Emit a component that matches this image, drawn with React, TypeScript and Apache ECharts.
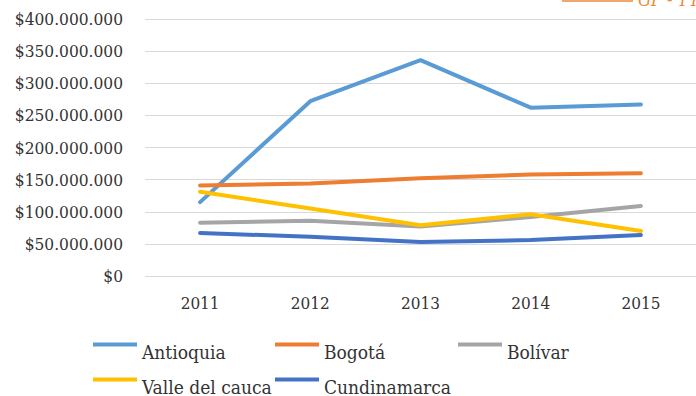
import { useEffect, useRef } from "react";
import * as echarts from "echarts";

// Years shown on the horizontal axis
const years = ["2011", "2012", "2013", "2014", "2015"];

// Yearly amounts per department (COP)
const antioquia = [115e6, 272e6, 336e6, 262e6, 267e6];
const bogota = [141e6, 144e6, 152e6, 158e6, 160e6];
const bolivar = [83e6, 86e6, 77e6, 92e6, 109e6];
const valle = [131e6, 105e6, 79e6, 96e6, 70e6];
const cundinamarca = [67e6, 61e6, 53e6, 56e6, 64e6];

const seriesNames = ["Antioquia", "Bogotá", "Bolívar", "Valle del cauca", "Cundinamarca"];
const seriesValues = [antioquia, bogota, bolivar, valle, cundinamarca];
const seriesColors = ["#5b9bd5", "#ed7d31", "#a5a5a5", "#ffc000", "#4472c4"];

const yMin = 0;
const yMax = 400e6;
const yStep = 50e6;

const FONT = "DejaVu Serif Condensed";
const TEXT = "#333333";

// Legend key: a thick stroke sitting at the top of a taller icon box
const LEGEND_ICON = "path://M0,0H44V4H0Z M0,17.9H0.1V18H0Z";

const money = (v: number) => "$" + String(Math.round(v)).replace(/\B(?=(\d{3})+(?!\d))/g, ".");

export default function App() {
  const ref = useRef<HTMLDivElement>(null);

  useEffect(() => {
    document.body.style.margin = "0";
    if (!ref.current) return;
    const chart = echarts.init(ref.current, null, { renderer: "svg" });

    // Legend placement: three items on the first row, two on the second
    const legendSlots = [
      { left: 93, top: 342 },
      { left: 275, top: 342 },
      { left: 458, top: 342 },
      { left: 93, top: 377 },
      { left: 275, top: 377 },
    ];

    chart.setOption({
      animation: false,
      backgroundColor: "#ffffff",
      grid: { left: 145, right: 0, top: 19, bottom: 120 },
      xAxis: {
        type: "category",
        data: years,
        boundaryGap: true,
        axisLine: { show: false },
        axisTick: { show: false },
        splitLine: { show: false },
        axisLabel: { color: TEXT, fontSize: 17, fontFamily: FONT, margin: 18 },
      },
      yAxis: {
        type: "value",
        min: yMin,
        max: yMax,
        interval: yStep,
        axisLine: { show: false },
        axisTick: { show: false },
        axisLabel: {
          color: TEXT,
          fontSize: 17.2,
          fontFamily: FONT,
          margin: 22,
          formatter: (v: number) => money(v),
        },
        splitLine: { lineStyle: { color: "#d9d9d9", width: 1 } },
      },
      legend: legendSlots.map((slot, i) => ({
        data: [seriesNames[i]],
        left: slot.left,
        top: slot.top,
        padding: 0,
        itemWidth: 44,
        itemHeight: 18,
        itemGap: 4,
        icon: LEGEND_ICON,
        textStyle: { color: TEXT, fontSize: 19, fontFamily: FONT },
      })),
      series: seriesNames.map((name, i) => ({
        name,
        type: "line",
        data: seriesValues[i],
        symbol: "none",
        color: seriesColors[i],
        lineStyle: { width: 4, color: seriesColors[i], cap: "round" },
      })),
      graphic: [
        {
          type: "line",
          shape: { x1: 562, y1: 1, x2: 633, y2: 1 },
          style: { stroke: "#ed8a3a", lineWidth: 1.5 },
        },
        {
          type: "text",
          x: 638,
          y: 8,
          style: {
            text: "GP - TT.",
            fill: "#ed8a3a",
            font: "italic 18px " + FONT,
            verticalAlign: "bottom",
          },
        },
      ],
    });

    return () => chart.dispose();
  }, []);

  return <div ref={ref} style={{ width: 696, height: 396 }} />;
}
